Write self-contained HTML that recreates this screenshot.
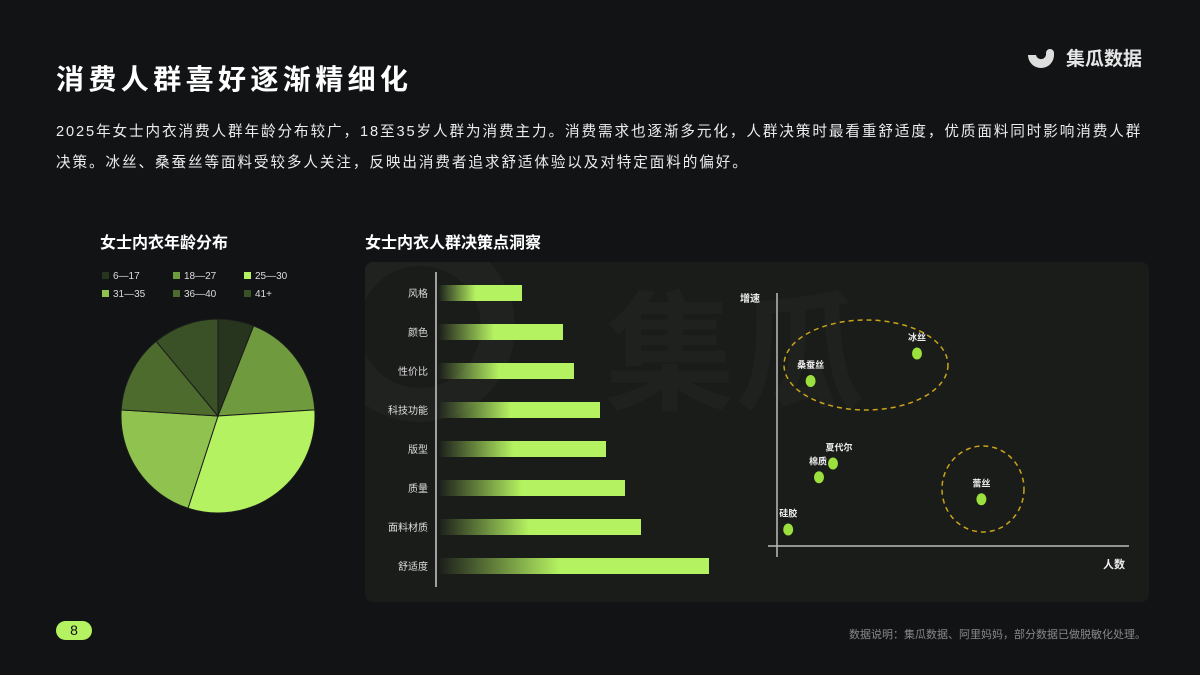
<!DOCTYPE html>
<html><head><meta charset="utf-8"><style>
body{margin:0;width:1200px;height:675px;background:#111315;overflow:hidden;font-family:"Liberation Sans","Noto Sans CJK SC",sans-serif;color:#fff;position:relative}
.abs{position:absolute}
</style></head><body>
<div class="abs" style="left:56px;top:58px;font-size:28px;font-weight:bold;letter-spacing:4.4px">消费人群喜好逐渐精细化</div>
<div class="abs" style="left:1024px;top:44px;display:flex;align-items:center;gap:8px">
<svg width="34" height="26" viewBox="0 0 34 26"><path d="M4 10 A13 13 0 0 0 30 10 L30 8 A4 4 0 0 0 22 8 A5 5 0 0 1 12 10 Z" fill="#ddd"/></svg>
<span style="font-size:19px;font-weight:bold;color:#e6e6e6">集瓜数据</span></div>
<div class="abs" style="left:56px;top:117px;width:1120px;font-size:14.6px;letter-spacing:1.9px;line-height:31px;color:#ececec;white-space:nowrap">2025年女士内衣消费人群年龄分布较广，18至35岁人群为消费主力。消费需求也逐渐多元化，人群决策时最看重舒适度，优质面料同时影响消费人群<br>决策。冰丝、桑蚕丝等面料受较多人关注，反映出消费者追求舒适体验以及对特定面料的偏好。</div>
<div class="abs" style="left:100px;top:229px;font-size:16px;font-weight:bold">女士内衣年龄分布</div>
<div class="abs" style="left:365px;top:229px;font-size:16px;font-weight:bold">女士内衣人群决策点洞察</div>
<div class="abs" style="left:365px;top:262px;width:784px;height:340px;background:#1a1c1a;border-radius:8px;overflow:hidden">
<div style="position:absolute;left:-40px;top:-30px;width:190px;height:190px;border-radius:50%;border:34px solid #1f221f;box-sizing:border-box"></div>
</div>
<div class="abs" style="left:605px;top:250px;font-size:130px;font-weight:bold;color:#1e211e">集瓜</div>
<svg class="abs" style="left:0;top:0" width="1200" height="675" id="svg">
<defs><linearGradient id="g" x1="0" x2="1"><stop offset="0" stop-color="#b5f261" stop-opacity="0"/><stop offset="0.45" stop-color="#b5f261"/><stop offset="1" stop-color="#b5f261"/></linearGradient></defs>
<g id="pie"></g><g id="bars"></g><g id="scatter"></g>
</svg>
<div class="abs" style="left:56px;top:621px;width:36px;height:19px;background:#b5f261;border-radius:10px;color:#111;font-size:14px;text-align:center;line-height:19px">8</div>
<div class="abs" style="right:54px;top:626px;font-size:11px;color:#888">数据说明：集瓜数据、阿里妈妈，部分数据已做脱敏化处理。</div>
<script>
const ageLabels=["6—17","18—27","25—30","31—35","36—40","41+"];
const ageValues=[6,18,31,21,13,11];
const ageColors=["#27351f","#6f9a3e","#b5f261","#8fc24f","#4e6b2e","#3a5026"];
const barCats=["风格","颜色","性价比","科技功能","版型","质量","面料材质","舒适度"];
const barValues=[84,125,136,162,168,187,203,271];
const scNames=["桑蚕丝","冰丝","夏代尔","棉质","硅胶","蕾丝"];
const scX=[12,50,20,15,4,73];
const scY=[60,70,30,25,6,17];
const NS="http://www.w3.org/2000/svg";
function mk(t,a,p){const e=document.createElementNS(NS,t);for(const k in a)e.setAttribute(k,a[k]);p.appendChild(e);return e;}
const pg=document.getElementById('pie');const cx=218,cy=416,r=97;
let tot=ageValues.reduce((a,b)=>a+b,0),acc=0;
ageValues.forEach((v,i)=>{const a0=acc/tot*2*Math.PI;acc+=v;const a1=acc/tot*2*Math.PI;
const x0=cx+r*Math.sin(a0),y0=cy-r*Math.cos(a0),x1=cx+r*Math.sin(a1),y1=cy-r*Math.cos(a1);
const p=mk('path',{d:`M${cx},${cy}L${x0},${y0}A${r},${r} 0 ${a1-a0>Math.PI?1:0} 1 ${x1},${y1}Z`,fill:ageColors[i],stroke:'#1a1c1a','stroke-width':1},pg);


const lx=102+(i%3)*71,ly=272+Math.floor(i/3)*18;
const sq=mk('rect',{x:lx,y:ly,width:7,height:7,fill:ageColors[i]},pg);


const t=mk('text',{x:lx+11,y:ly+7,fill:'#ddd','font-size':10},pg);t.textContent=ageLabels[i];


});
const bg=document.getElementById('bars');const x0=438;
const ax=mk('line',{x1:436,y1:272,x2:436,y2:587,stroke:'#ccc','stroke-width':1.5},bg);


barCats.forEach((c,i)=>{const yc=293+i*39;
const b=mk('rect',{x:x0,y:yc-8,width:barValues[i],height:16,fill:'url(#g)'},bg);


const t=mk('text',{x:428,y:yc+4,fill:'#ddd','font-size':10,'text-anchor':'end'},bg);t.textContent=c;

});
const sg=document.getElementById('scatter');
const sx=v=>777+v*2.8,sy=v=>546-v*2.75;
const l1=mk('line',{x1:777,y1:293,x2:777,y2:557,stroke:'#bbb','stroke-width':1.5},sg);


const l2=mk('line',{x1:768,y1:546,x2:1129,y2:546,stroke:'#bbb','stroke-width':1.5},sg);


const ty=mk('text',{x:740,y:302,fill:'#eee','font-size':10,'font-weight':'bold'},sg);ty.textContent='增速';


const tx=mk('text',{x:1103,y:568,fill:'#eee','font-size':11,'font-weight':'bold'},sg);tx.textContent='人数';


const e1=mk('ellipse',{cx:866,cy:365,rx:82,ry:45,fill:'none',stroke:'#c9a318','stroke-width':1.5,'stroke-dasharray':'5 4'},sg);


const e2=mk('ellipse',{cx:983,cy:489,rx:41,ry:43,fill:'none',stroke:'#c9a318','stroke-width':1.5,'stroke-dasharray':'5 4'},sg);


scNames.forEach((n,i)=>{const px=sx(scX[i]),py=sy(scY[i]);
const c=mk('ellipse',{cx:px,cy:py,rx:5,ry:6,fill:'#9be03c'},sg);


const t=mk('text',{x:px+(n==='夏代尔'?6:n==='棉质'?-1:0),y:py-13,fill:'#eee','font-size':9,'font-weight':'bold','text-anchor':'middle'},sg);t.textContent=n;

});
</script>
</body></html>
